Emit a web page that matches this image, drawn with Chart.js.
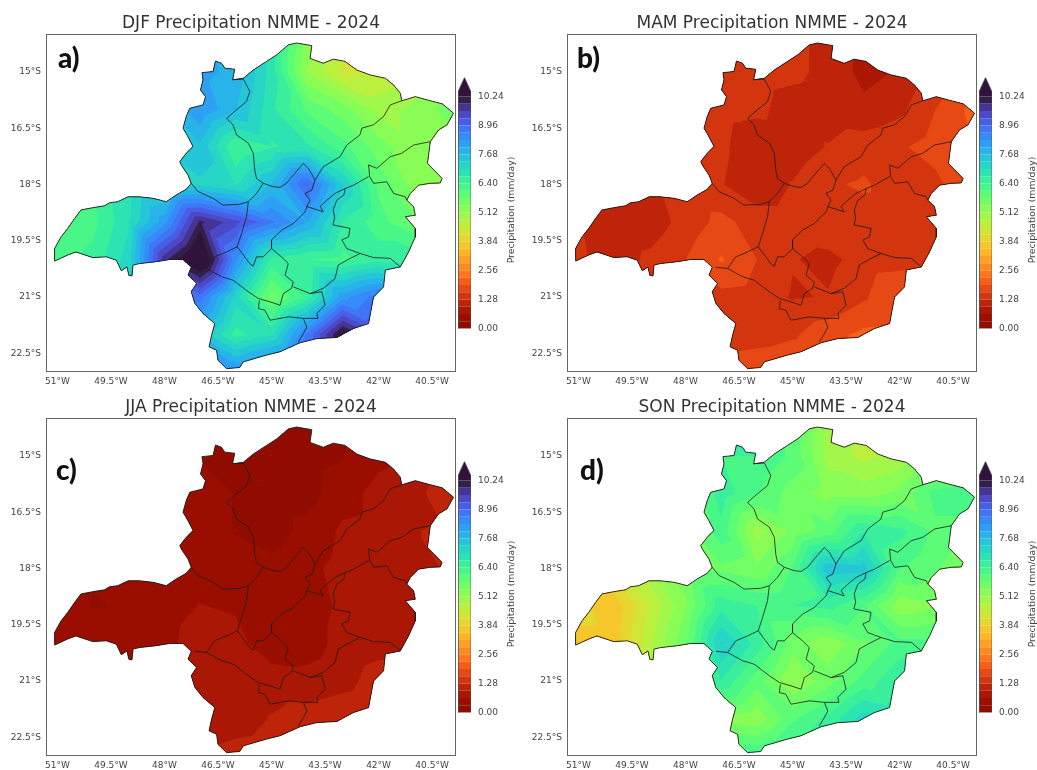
<!DOCTYPE html>
<html>
<head>
<meta charset="utf-8">
<title>NMME Precipitation 2024</title>
<script src="https://cdn.jsdelivr.net/npm/chart.js@4"></script>
<style>
  body { margin: 0; background: #fff; width: 1037px; height: 770px; overflow: hidden; position: relative; filter: blur(0.55px); }
  canvas { position: absolute; }
  .letter { position: absolute; font: 900 28px Lato, sans-serif; color: #111; line-height: 30px; }
</style>
</head>
<body>
<script>
const gridLons = [-52, -51, -50, -49, -48, -47, -46, -45, -44, -43, -42, -41, -40, -39];
const gridLats = [-14, -15, -16, -17, -18, -19, -20, -21, -22, -23];

// mm/day, one row per latitude
const djfValues = [
  [6, 6, 6.5, 7, 7.4, 8.1, 7.9, 6.9, 5.4, 4.6, 4.6, 4.8, 5.2, 5.4],
  [6, 6, 6.5, 7, 7.4, 8.1, 7.9, 6.9, 5.1, 4.4, 4.5, 4.8, 5.2, 5.4],
  [6, 6, 6.5, 7, 7.6, 8.3, 7.7, 6.8, 6.0, 5.6, 5.0, 5.2, 5.6, 5.6],
  [6, 6, 6.5, 7, 7.4, 7.6, 6.4, 6.7, 6.8, 6.2, 5.6, 5.2, 5.2, 5.2],
  [6, 6, 6.4, 6.9, 7.2, 7.3, 7.0, 7.7, 9.0, 7.4, 6.0, 5.3, 5.3, 5.3],
  [6.1, 6.1, 6.3, 7.0, 8.2, 10.0, 9.4, 8.7, 8.0, 6.7, 6.2, 5.8, 5.6, 5.6],
  [6.3, 6.3, 6.5, 7.2, 9.8, 11, 8.4, 6.6, 6.4, 6.3, 6.6, 6.6, 6.4, 6.4],
  [6.4, 6.4, 6.6, 7.4, 9, 8.8, 7.2, 5.6, 6.5, 8.2, 8.8, 8, 7.5, 7.5],
  [6.6, 6.6, 6.8, 7.2, 7.6, 7.6, 6.6, 7.0, 8.7, 10.4, 9.4, 8.4, 8, 8],
  [7, 7, 7.2, 7.6, 8, 8.4, 8.4, 9, 9.6, 10, 9.6, 8.8, 8.4, 8.4]
];
const mamValues = [
  [1.4, 1.4, 1.3, 1.2, 1.3, 1.4, 1.4, 1.35, 1.2, .9, 1.0, 1.3, 1.6, 1.7],
  [1.4, 1.4, 1.3, 1.2, 1.3, 1.4, 1.4, 1.35, 1.2, .85, 1.0, 1.3, 1.6, 1.7],
  [1.4, 1.4, 1.3, 1.2, 1.3, 1.4, 1.35, 1.15, 1.1, 1.05, 1.2, 1.6, 2.0, 2.0],
  [1.4, 1.4, 1.3, 1.2, 1.3, 1.35, 1.05, 1.1, 1.3, 1.45, 1.55, 1.75, 1.9, 1.9],
  [1.4, 1.4, 1.3, 1.2, 1.35, 1.3, 1.05, 1.3, 1.55, 1.65, 1.4, 1.5, 1.9, 1.9],
  [1.4, 1.3, 1.05, 1.1, 1.4, 1.7, 1.45, 1.45, 1.5, 1.45, 1.4, 1.45, 1.7, 1.7],
  [1.35, 1.35, 1.1, 1.35, 1.6, 1.95, 1.6, 1.3, 1.2, 1.4, 1.45, 1.6, 1.8, 1.8],
  [1.35, 1.35, 1.3, 1.4, 1.4, 1.5, 1.45, 1.25, 1.3, 1.55, 1.95, 2, 2, 2],
  [1.4, 1.4, 1.4, 1.4, 1.4, 1.4, 1.45, 1.55, 1.8, 2.0, 2.05, 2.1, 2.1, 2.1],
  [1.5, 1.5, 1.5, 1.6, 1.7, 1.8, 1.85, 1.9, 1.95, 2.1, 2.1, 2.1, 2.1, 2.1]
];
const jjaValues = [
  [.5, .5, .4, .4, .4, .28, .25, .2, .2, .3, .55, .7, .9, 1.1],
  [.5, .5, .4, .4, .4, .28, .25, .2, .2, .3, .55, .7, .9, 1.1],
  [.5, .5, .4, .4, .5, .5, .3, .2, .2, .5, .75, .85, 1.2, 1.2],
  [.5, .5, .4, .4, .5, .5, .3, .2, .4, .7, .75, .95, 1, 1.1],
  [.5, .5, .35, .3, .5, .5, .45, .4, .55, .75, .7, .85, 1, 1.1],
  [.5, .5, .3, .35, .5, .65, .6, .5, .5, .7, .65, .65, .9, 1],
  [.5, .5, .5, .5, .55, .8, .75, .45, .5, .75, .85, .95, 1, 1],
  [.55, .55, .55, .6, .65, .7, .75, .8, .75, .85, 1.1, 1.1, 1.2, 1.2],
  [.6, .6, .6, .65, .7, .7, .8, .98, 1.1, 1.2, 1.25, 1.25, 1.25, 1.25],
  [.7, .7, .7, .8, .9, 1, 1.1, 1.15, 1.25, 1.25, 1.25, 1.25, 1.25, 1.25]
];
const sonValues = [
  [4, 4, 4.4, 5, 5.6, 6.4, 6.4, 6, 5, 4.7, 4.9, 5.2, 5.8, 6],
  [4, 4, 4.4, 5, 5.6, 6.4, 6.4, 6.0, 5.0, 4.7, 4.9, 5.2, 5.8, 6],
  [4, 4, 4.4, 5, 5.6, 6.6, 6.1, 5.6, 5.3, 5.3, 5.5, 6.2, 6.3, 6.3],
  [4, 4, 4.4, 5, 5.6, 6.3, 5.0, 5.5, 5.9, 6.7, 6.5, 6.0, 6.0, 6],
  [4, 4, 4.4, 5, 5.6, 5.7, 5.5, 6.1, 7.6, 7.5, 6.1, 5.8, 5.5, 5.5],
  [4, 4.0, 3.6, 4.5, 5.4, 6.6, 6.4, 6.4, 6.5, 6.1, 5.2, 5.4, 5, 5],
  [3.7, 3.7, 3.7, 4.7, 5.7, 7.4, 6.6, 5.6, 5.2, 5.7, 6.2, 6.2, 6, 6],
  [3.8, 3.8, 4.4, 5, 6, 6.7, 5.9, 5.1, 5.6, 6.2, 6.7, 6.7, 6.5, 6.5],
  [4.2, 4.2, 4.6, 5, 5.2, 5.3, 5.2, 6.0, 6.5, 7.2, 7, 7, 7, 7],
  [4.6, 4.6, 5, 5.2, 5.6, 6, 6.4, 6.8, 7, 7.2, 7, 7, 7, 7]
];

const levels = [0, .32, .64, .96, 1.28, 1.6, 1.92, 2.24, 2.56, 2.88, 3.2, 3.52, 3.84, 4.16, 4.48, 4.8, 5.12,
  5.44, 5.76, 6.08, 6.4, 6.72, 7.04, 7.36, 7.68, 8, 8.32, 8.64, 8.96, 9.28, 9.6, 9.92, 10.24];
const colorbarTicks = [0, 1.28, 2.56, 3.84, 5.12, 6.4, 7.68, 8.96, 10.24];
const lonTicks = [-51, -49.5, -48, -46.5, -45, -43.5, -42, -40.5];
const latTicks = [-15, -16.5, -18, -19.5, -21, -22.5];

// state border, lon/lat pairs
const stateBorder = [
  [-51.07,-20.04],[-51.08,-19.71],[-50.90,-19.40],[-50.71,-19.17],[-50.52,-18.91],[-50.34,-18.68],[-50.01,-18.62],
  [-49.68,-18.57],[-49.54,-18.49],[-49.31,-18.46],[-49.02,-18.33],[-48.70,-18.33],[-48.32,-18.37],[-47.95,-18.46],
  [-47.67,-18.28],[-47.39,-18.13],[-47.25,-17.97],[-47.34,-17.75],[-47.53,-17.48],[-47.57,-17.39],[-47.39,-17.17],
  [-47.20,-16.99],[-47.34,-16.73],[-47.48,-16.50],[-47.39,-16.19],[-47.29,-15.97],[-46.92,-15.88],[-46.85,-15.66],
  [-46.99,-15.48],[-46.92,-15.21],[-46.95,-15.02],[-46.64,-14.99],[-46.57,-14.71],[-46.40,-14.77],[-46.31,-14.90],
  [-46.03,-14.93],[-46.09,-15.21],[-45.79,-15.17],[-45.51,-14.95],[-45.14,-14.72],[-44.86,-14.55],[-44.53,-14.28],
  [-44.30,-14.23],[-43.87,-14.30],[-43.92,-14.64],[-43.55,-14.77],[-43.27,-14.66],[-42.94,-14.72],[-42.61,-14.95],
  [-42.24,-15.08],[-41.81,-15.17],[-41.58,-15.35],[-41.39,-15.57],[-41.35,-15.77],[-40.97,-15.66],[-40.55,-15.77],
  [-40.22,-15.85],[-39.90,-16.10],[-40.08,-16.41],[-40.32,-16.55],[-40.55,-16.86],[-40.63,-17.44],[-40.22,-17.84],
  [-40.27,-17.96],[-40.55,-17.97],[-40.88,-18.02],[-41.11,-18.24],[-41.21,-18.42],[-41.02,-18.59],[-40.97,-18.82],
  [-41.25,-18.86],[-40.97,-19.17],[-40.97,-19.40],[-41.16,-19.80],[-41.39,-20.20],[-41.81,-20.28],[-41.86,-20.73],
  [-42.14,-21.00],[-42.28,-21.71],[-42.70,-21.84],[-43.17,-22.08],[-43.73,-22.11],[-44.20,-22.22],[-44.76,-22.46],
  [-45.14,-22.55],[-45.79,-22.73],[-45.89,-22.88],[-46.26,-22.91],[-46.50,-22.69],[-46.54,-22.42],[-46.75,-22.33],
  [-46.68,-22.02],[-46.59,-21.71],[-46.92,-21.44],[-47.15,-21.17],[-47.25,-20.86],[-47.10,-20.64],[-47.34,-20.42],
  [-47.25,-20.21],[-47.48,-20.00],[-47.85,-20.00],[-48.23,-20.06],[-48.70,-20.11],[-48.88,-20.15],[-48.91,-20.44],
  [-49.00,-20.42],[-49.05,-20.20],[-49.21,-20.30],[-49.35,-20.02],[-49.63,-19.93],[-50.01,-19.95],[-50.48,-19.80],
  [-50.71,-19.88],[-51.07,-20.04]
];

// inner region borders
const regionBorders = [
  [[-46.09,-15.21],[-45.79,-15.19],[-45.61,-15.52],[-45.70,-15.79],[-45.98,-16.01],[-46.26,-16.24],[-46.08,-16.41],
   [-45.98,-16.68],[-45.65,-16.90],[-45.51,-17.17],[-45.47,-17.62],[-45.42,-17.84],[-45.23,-17.97],[-44.95,-18.06],
   [-44.76,-18.08],[-44.58,-17.97],[-44.39,-17.75],[-44.11,-17.44],[-43.97,-17.57],[-43.78,-17.88]],
  [[-41.35,-15.77],[-41.67,-15.88],[-41.86,-16.19],[-42.14,-16.41],[-42.47,-16.50],[-42.52,-16.68],[-42.89,-16.95],
   [-43.08,-17.26],[-43.55,-17.53],[-43.78,-17.88],[-43.87,-18.15],[-44.06,-18.24],[-43.92,-18.42],[-44.01,-18.59],
   [-44.06,-18.73],[-44.39,-19.04],[-44.72,-19.22],[-45.00,-19.48],[-45.00,-19.71]],
  [[-47.25,-17.97],[-47.06,-18.19],[-46.64,-18.37],[-46.36,-18.55],[-45.89,-18.53],[-45.65,-18.46],[-45.42,-18.24],[-45.23,-17.97]],
  [[-45.65,-18.46],[-45.70,-18.86],[-45.84,-19.31],[-45.96,-19.66],[-45.79,-19.88],[-45.61,-20.11],[-45.51,-20.18],
   [-45.42,-19.93],[-45.23,-19.93],[-45.00,-19.71],[-44.72,-19.93],[-44.53,-20.11],[-44.62,-20.42],[-44.39,-20.60],
   [-44.44,-20.77],[-44.67,-20.91],[-44.76,-21.22],[-45.04,-21.13],[-45.37,-21.04],[-45.65,-20.86],[-46.08,-20.55],
   [-46.40,-20.46],[-46.82,-20.24],[-47.15,-20.21]],
  [[-45.96,-19.66],[-46.26,-19.80],[-46.59,-19.93],[-46.82,-20.24]],
  [[-40.55,-16.86],[-41.02,-16.95],[-41.35,-17.17],[-41.67,-17.26],[-42.05,-17.57],[-42.28,-17.48],[-42.25,-17.79],
   [-42.14,-17.97],[-41.77,-17.93],[-41.58,-18.24],[-41.25,-18.33],[-41.21,-18.42]],
  [[-42.28,-17.79],[-42.70,-18.02],[-42.94,-18.11],[-43.22,-18.24],[-43.45,-18.42],[-43.64,-18.59],[-43.55,-18.73],[-44.01,-18.59]],
  [[-42.94,-18.11],[-42.97,-18.28],[-43.17,-18.42],[-43.27,-18.68],[-43.23,-18.90],[-43.28,-19.08],[-42.80,-19.17],[-42.84,-19.40],
   [-43.03,-19.48],[-42.89,-19.71],[-42.52,-19.84]],
  [[-41.39,-20.20],[-41.67,-19.97],[-42.14,-19.95],[-42.52,-19.84],[-42.89,-20.02],[-43.13,-20.15],[-43.22,-20.51],
   [-43.55,-20.77],[-43.92,-20.91],[-44.39,-20.73]],
  [[-43.92,-20.91],[-43.59,-20.86],[-43.50,-21.22],[-43.73,-21.44],[-43.70,-21.57],[-44.11,-21.57],[-44.53,-21.53],
   [-45.04,-21.62],[-45.19,-21.35],[-45.37,-21.31],[-45.34,-21.09]],
  [[-44.11,-21.57],[-44.01,-21.80],[-44.11,-21.98],[-44.25,-22.20]]
];

const FONT = '"DejaVu Sans", sans-serif';
const TOP_COLOR = '#30123b';

function turbo(x) {
  const r = 0.13572138 + x * (4.6153926 + x * (-42.66032258 + x * (132.13108234 + x * (-152.94239396 + x * 59.28637943))));
  const g = 0.09140261 + x * (2.19418839 + x * (4.84296658 + x * (-14.18503333 + x * (4.27729857 + x * 2.82956604))));
  const b = 0.1066733 + x * (12.64194608 + x * (-60.58204836 + x * (110.36276771 + x * (-89.90310912 + x * 27.34824973))));
  const c = v => Math.round(255 * Math.min(1, Math.max(0, v)));
  return `rgb(${c(r)},${c(g)},${c(b)})`;
}

// reversed turbo, one flat colour per band
function levelColor(i) {
  if (i >= levels.length - 1) return TOP_COLOR;
  return turbo(1 - (i + 0.5) / (levels.length - 1));
}

// part of a triangle where value >= level
function clipTriangle(tri, level) {
  const out = [];
  for (let i = 0; i < tri.length; i++) {
    const a = tri[i], b = tri[(i + 1) % tri.length];
    if (a[2] >= level) out.push(a);
    if ((a[2] >= level) !== (b[2] >= level)) {
      const t = (level - a[2]) / (b[2] - a[2]);
      out.push([a[0] + t * (b[0] - a[0]), a[1] + t * (b[1] - a[1]), level]);
    }
  }
  return out;
}

// filled contour as one path: every piece goes out from and back to an anchor point
function contourPath(values, level) {
  const pts = [];
  let anchor = null;
  for (let r = 0; r < gridLats.length - 1; r++) {
    for (let c = 0; c < gridLons.length - 1; c++) {
      const p = (ri, ci) => [gridLons[ci], gridLats[ri], values[ri][ci]];
      const tris = [[p(r, c), p(r, c + 1), p(r + 1, c + 1)], [p(r, c), p(r + 1, c + 1), p(r + 1, c)]];
      for (const tri of tris) {
        const poly = clipTriangle(tri, level);
        if (poly.length < 3) continue;
        if (!anchor) anchor = { x: poly[0][0], y: poly[0][1] };
        for (const v of poly) pts.push({ x: v[0], y: v[1] });
        pts.push({ x: poly[0][0], y: poly[0][1] });
        pts.push(anchor);
      }
    }
  }
  return pts;
}

const toPoints = line => line.map(p => ({ x: p[0], y: p[1] }));

// clip the contours to the state, and draw the frame
const mapPlugin = {
  id: 'mapPlugin',
  beforeDatasetsDraw(chart) {
    const { ctx, scales } = chart;
    ctx.save();
    ctx.beginPath();
    stateBorder.forEach((p, i) => {
      const x = scales.x.getPixelForValue(p[0]), y = scales.y.getPixelForValue(p[1]);
      if (i === 0) ctx.moveTo(x, y); else ctx.lineTo(x, y);
    });
    ctx.closePath();
    ctx.clip();
  },
  afterDatasetDraw(chart, args) {
    if (args.index === regionBorders.length + 1) chart.ctx.restore();
  },
  afterDraw(chart) {
    const { ctx, chartArea: a } = chart;
    ctx.save();
    ctx.strokeStyle = '#666';
    ctx.lineWidth = 1;
    ctx.strokeRect(a.left + 0.5, a.top + 0.5, a.right - a.left - 1, a.bottom - a.top - 1);
    ctx.restore();
  }
};

// colorbar label reads bottom to top, the axis title option would turn it the other way
const colorbarLabel = {
  id: 'colorbarLabel',
  afterDraw(chart) {
    const { ctx } = chart;
    ctx.save();
    ctx.translate(63.5, 145);
    ctx.rotate(-Math.PI / 2);
    ctx.fillStyle = '#444';
    ctx.font = '9.3px ' + FONT;
    ctx.textAlign = 'center';
    ctx.textBaseline = 'middle';
    ctx.fillText('Precipitation (mm/day)', 0, 0);
    ctx.restore();
  }
};

function addCanvas(left, top, w, h) {
  const cv = document.createElement('canvas');
  cv.width = w; cv.height = h;
  cv.style.left = left + 'px'; cv.style.top = top + 'px';
  document.body.appendChild(cv);
  return cv;
}

function mapChart(left, top, title, values) {
  const datasets = [];
  const lineStyle = { showLine: true, pointRadius: 0, borderColor: '#1c1c1c', fill: false };
  for (const line of regionBorders) datasets.push({ ...lineStyle, data: toPoints(line), borderWidth: 0.8 });
  datasets.push({ ...lineStyle, data: toPoints(stateBorder), borderWidth: 0.9 });
  // first dataset is painted last, so the highest level goes first
  for (let i = levels.length - 1; i >= 0; i--) {
    datasets.push({
      data: contourPath(values, levels[i]),
      showLine: true, pointRadius: 0, borderWidth: 0,
      fill: 'shape', backgroundColor: levelColor(i), tension: 0
    });
  }
  return new Chart(addCanvas(left, top, 502, 400), {
    type: 'scatter',
    data: { datasets },
    plugins: [mapPlugin],
    options: {
      responsive: false,
      animation: false,
      layout: { padding: { right: 46 }, autoPadding: false },
      plugins: {
        legend: { display: false },
        tooltip: { enabled: false },
        title: {
          display: true, text: title, color: '#333', fullSize: false,
          font: { family: FONT, size: 17, weight: 'normal' },
          padding: { top: 13.6, bottom: 0 }
        }
      },
      scales: {
        x: {
          type: 'linear', min: -51.32, max: -39.83,
          grid: { display: false, drawTicks: false }, border: { display: false },
          afterBuildTicks: s => { s.ticks = lonTicks.map(v => ({ value: v })); },
          afterFit: s => { s.height = 28; },
          ticks: {
            autoSkip: false, maxRotation: 0, padding: 4, color: '#444',
            font: { family: FONT, size: 9 },
            callback: v => Math.abs(v) + '°W'
          }
        },
        y: {
          type: 'linear', min: -23, max: -13.99,
          grid: { display: false, drawTicks: false }, border: { display: false },
          afterBuildTicks: s => { s.ticks = latTicks.map(v => ({ value: v })); },
          afterFit: s => { s.width = 46; },
          ticks: {
            autoSkip: false, padding: 5, color: '#444',
            font: { family: FONT, size: 9 },
            callback: v => Math.abs(v) + '°S'
          }
        }
      }
    }
  });
}

function colorbarChart(left, top) {
  const barTop = 10.45, tip = 11.08;
  const datasets = [];
  const outline = [[0, 0], [1, 0], [1, barTop], [0.5, tip], [0, barTop], [0, 0]];
  datasets.push({ data: toPoints(outline), showLine: true, pointRadius: 0, borderWidth: 0.7, borderColor: '#555', fill: false });
  datasets.push({
    data: toPoints([[0, 10.24], [1, 10.24], [1, barTop], [0.5, tip], [0, barTop], [0, 10.24]]),
    showLine: true, pointRadius: 0, borderWidth: 0, fill: 'shape', backgroundColor: TOP_COLOR
  });
  for (let i = 0; i < levels.length - 1; i++) {
    const a = levels[i], b = levels[i + 1];
    datasets.push({
      data: toPoints([[0, a], [1, a], [1, b], [0, b], [0, a]]),
      showLine: true, pointRadius: 0, borderWidth: 0, fill: 'shape', backgroundColor: levelColor(i)
    });
  }
  return new Chart(addCanvas(left, top, 70, 276), {
    type: 'scatter',
    data: { datasets },
    plugins: [colorbarLabel],
    options: {
      responsive: false,
      animation: false,
      layout: { padding: { left: 10 }, autoPadding: false },
      plugins: { legend: { display: false }, tooltip: { enabled: false } },
      scales: {
        x: { type: 'linear', display: false, min: 0, max: 1 },
        y: {
          type: 'linear', position: 'right', min: 0, max: tip,
          grid: { display: false, drawTicks: false }, border: { display: false },
          afterBuildTicks: s => { s.ticks = colorbarTicks.map(v => ({ value: v })); },
          afterFit: s => { s.width = 47; },
          ticks: {
            autoSkip: false, padding: 7, color: '#444',
            font: { family: FONT, size: 9 },
            callback: v => v.toFixed(2)
          }
        }
      }
    }
  });
}

function addLetter(text, x, y) {
  const d = document.createElement('div');
  d.className = 'letter';
  d.textContent = text;
  d.style.left = x + 'px';
  d.style.top = y + 'px';
  document.body.appendChild(d);
}

mapChart(0, 0, 'DJF Precipitation NMME - 2024', djfValues);
mapChart(521, 0, 'MAM Precipitation NMME - 2024', mamValues);
mapChart(0, 384, 'JJA Precipitation NMME - 2024', jjaValues);
mapChart(521, 384, 'SON Precipitation NMME - 2024', sonValues);

colorbarChart(448, 65);
colorbarChart(969, 65);
colorbarChart(448, 449);
colorbarChart(969, 449);

addLetter('a)', 58, 42);
addLetter('b)', 577, 42);
addLetter('c)', 56, 454);
addLetter('d)', 580, 454);
</script>
</body>
</html>
